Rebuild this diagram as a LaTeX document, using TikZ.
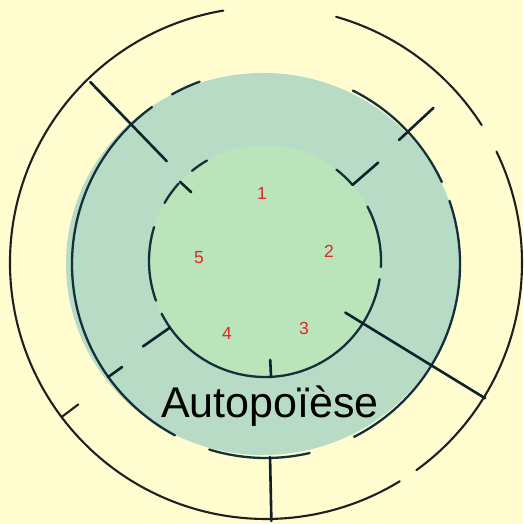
\documentclass[tikz,border=0pt]{standalone}
\usepackage{fontspec}
\setmainfont{Liberation Sans}
\usepackage{tikz}

\definecolor{paper}{RGB}{255,253,208}
\definecolor{ringfill}{RGB}{183,219,196}
\definecolor{corefill}{RGB}{186,229,187}
\definecolor{inkblue}{RGB}{20,48,60}
\definecolor{numred}{RGB}{222,38,38}

\begin{document}
\begin{tikzpicture}[x=1pt,y=1pt,line cap=round,
  outerring/.style={draw=black!88,line width=2.1pt},
  innerring/.style={draw=inkblue,line width=2.3pt},
  spoke/.style={draw=inkblue!70!black,line width=2.6pt},
  num/.style={text=numred,font=\fontsize{17.5}{17.5}\selectfont}]
  % one unit = one pixel of the scan, y pointing up
  \useasboundingbox (0,0) rectangle (523,524);
  \fill[paper] (0,0) rectangle (523,524);
  \coordinate (O) at (266,261);
  \coordinate (M) at (266,260);
  \coordinate (I) at (265,263);
  \fill[ringfill] (263,260) ellipse[x radius=197,y radius=191];
  \fill[corefill] (I) circle[radius=116];
  % outer ring, with its gaps
  \foreach \a/\b in {99.6/301.5, 306/385.8, 32.6/74.1}
     \draw[outerring] ([shift={(\a:256)}]O) arc[start angle=\a,end angle=\b,radius=256];
  % middle ring
  \foreach \a/\b in {110/119, 126/242, 253/283, 297/379, 25/63.4}
     \draw[innerring] ([shift={(\a:194)}]M) arc[start angle=\a,end angle=\b,radius=194];
  % inner ring
  \foreach \a/\b in {41/52, 120/129, 138/150, 163/200, 207/351, 357/388}
     \draw[innerring] ([shift={(\a:116)}]I) arc[start angle=\a,end angle=\b,radius=116];
  % spokes and ticks: angle / from radius / to radius
  \foreach \a/\r/\s in {134/143/253, -31.5/93/257, 271.2/193/257, 43/182/229, 215.6/177/194}
     \draw[spoke] ([shift={(\a:\r)}]M) -- ([shift={(\a:\s)}]M);
  \draw[outerring] ([shift={(217:235)}]O) -- ([shift={(217:256)}]O);
  \foreach \a/\r/\s in {137/101/116, 41/116/150, 215/116/149, 273/99/116}
     \draw[spoke] ([shift={(\a:\r)}]I) -- ([shift={(\a:\s)}]I);
  % the five numbered regions
  \foreach \n/\p in {1/{(262,331)}, 2/{(329,273)}, 3/{(304,196)}, 4/{(227,191)}, 5/{(199,266)}}
     \node[num] (n\n) at \p {\n};
  \node[font=\fontsize{43}{43}\selectfont,anchor=base] (title) at (270,106) {Autopoïèse};
\end{tikzpicture}
\end{document}
